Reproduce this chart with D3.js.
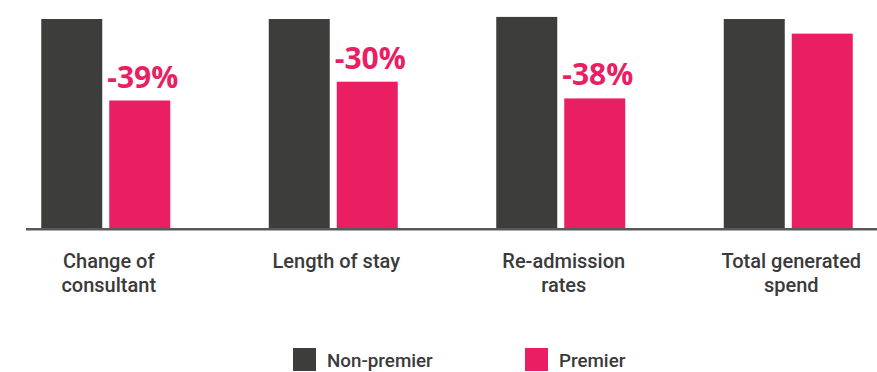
<!DOCTYPE html>
<html>
<head>
<meta charset="utf-8">
<script src="https://cdn.jsdelivr.net/npm/d3@7"></script>
<style>
  body { margin: 0; background: #fff; }
  svg { display: block; font-family: "Open Sans", sans-serif; }
</style>
</head>
<body>
<div class="chart-area"></div>
<script>
// values (index, non-premier ~ 100)
const categories = [["Change of", "consultant"], ["Length of stay"], ["Re-admission", "rates"], ["Total generated", "spend"]];
const series = ["Non-premier", "Premier"];
const nonPremier = [100, 100, 101, 100];
const premier = [61, 70, 62, 93];
const changeLabels = ["-39%", "-30%", "-38%", ""];

const width = 877;
const height = 372;
const baseline = 228;

const color = d3.scaleOrdinal(series, ["#3d3d3b", "#e91e63"]);

const svg = d3.select(".chart-area")
    .append("svg")
    .attr("width", width)
    .attr("height", height);

const keys = categories.map(d => d.join(" "));

const x0 = d3.scaleBand()
    .domain(keys)
    .range([-8, 902])
    .paddingInner(0.433)
    .paddingOuter(0.2165);

const x1 = d3.scaleBand()
    .domain(series)
    .range([0, x0.bandwidth()])
    .paddingInner(0.103);

const y = d3.scaleLinear()
    .domain([0, 100])
    .range([baseline, 19]);

const data = keys.map((k, i) => ({
    key: k,
    lines: categories[i],
    values: [
        { name: "Non-premier", value: nonPremier[i] },
        { name: "Premier", value: premier[i] }
    ],
    label: changeLabels[i]
}));

const groups = svg.selectAll(".group")
    .data(data)
    .enter().append("g")
    .attr("class", "group")
    .attr("transform", d => `translate(${x0(d.key)},0)`);

groups.selectAll("rect")
    .data(d => d.values)
    .enter().append("rect")
    .attr("x", d => x1(d.name))
    .attr("width", x1.bandwidth())
    .attr("y", d => y(d.value))
    .attr("height", d => baseline - y(d.value))
    .attr("fill", d => color(d.name));

// change labels over the premier bars
groups.append("text")
    .attr("x", x1("Premier") + x1.bandwidth() / 2 + 3)
    .attr("y", d => y(d.values[1].value) - 13)
    .attr("text-anchor", "middle")
    .attr("fill", color("Premier"))
    .attr("font-size", "30px")
    .attr("font-weight", 700)
    .text(d => d.label);

// baseline
svg.append("line")
    .attr("x1", 26)
    .attr("x2", width)
    .attr("y1", baseline + 1.2)
    .attr("y2", baseline + 1.2)
    .attr("stroke", "#58585a")
    .attr("stroke-width", 2.5);

// category labels
const catText = groups.append("text")
    .attr("text-anchor", "middle")
    .attr("fill", "#3a3a3a")
    .attr("font-family", "Roboto, sans-serif")
    .attr("font-size", "20px")
    .attr("font-weight", 500);

catText.selectAll("tspan")
    .data(d => d.lines)
    .enter().append("tspan")
    .attr("x", x0.bandwidth() / 2 + 3)
    .attr("y", (d, i) => 268 + i * 24)
    .text(d => d);

// legend
const legendX = [293, 525];
const legend = svg.selectAll(".legend")
    .data(series)
    .enter().append("g")
    .attr("class", "legend")
    .attr("transform", (d, i) => `translate(${legendX[i]},348)`);

legend.append("rect")
    .attr("width", 23)
    .attr("height", 23)
    .attr("fill", d => color(d));

legend.append("text")
    .attr("x", 34)
    .attr("y", 19)
    .attr("fill", "#3a3a3a")
    .attr("font-family", "Roboto, sans-serif")
    .attr("font-size", "18.8px")
    .attr("font-weight", 500)
    .text(d => d);
</script>
</body>
</html>
